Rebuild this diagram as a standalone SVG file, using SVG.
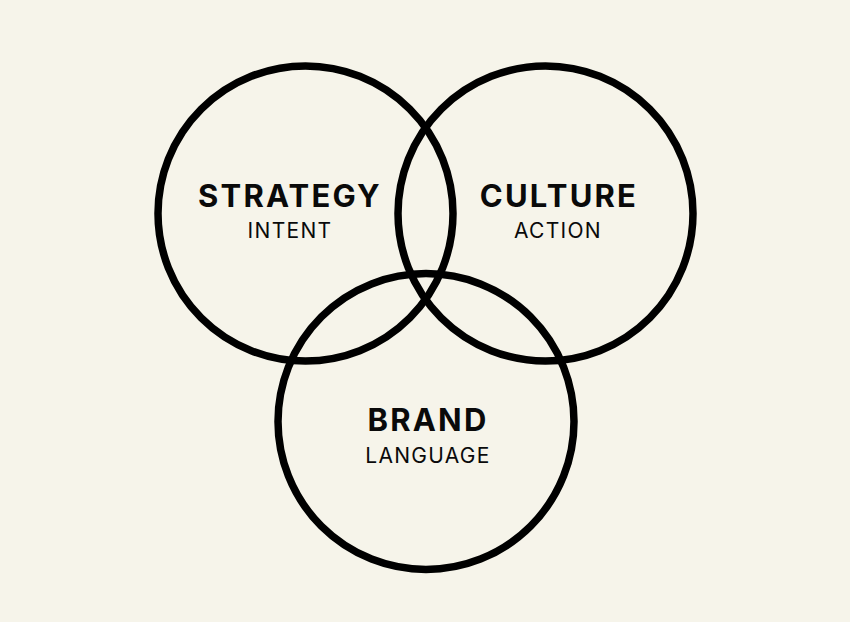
<svg xmlns="http://www.w3.org/2000/svg" width="850" height="622" viewBox="0 0 850 622">
<style>
.c{fill:none;stroke:#000;stroke-width:7.5}
.t{font-family:Inter,"Liberation Sans",sans-serif;font-weight:700;font-size:31px;letter-spacing:2.2px;fill:#0a0a0a;text-anchor:middle}
.s{font-family:Inter,"Liberation Sans",sans-serif;font-weight:400;font-size:21px;letter-spacing:1.3px;fill:#0a0a0a;text-anchor:middle}
</style>
<rect width="850" height="622" fill="#f6f4ea"/>
<g id="strategy">
<circle class="c" cx="305.5" cy="213.5" r="147.5"/>
<text class="t" x="290" y="207">STRATEGY</text>
<text class="s" x="290" y="238">INTENT</text>
</g>
<g id="culture">
<circle class="c" cx="545.5" cy="213.5" r="147.5"/>
<text class="t" x="559" y="207">CULTURE</text>
<text class="s" x="558" y="238">ACTION</text>
</g>
<g id="brand">
<circle class="c" cx="426" cy="421.5" r="148"/>
<text class="t" x="428" y="431">BRAND</text>
<text class="s" x="428" y="463">LANGUAGE</text>
</g>
<g id="connectors"></g>
</svg>
